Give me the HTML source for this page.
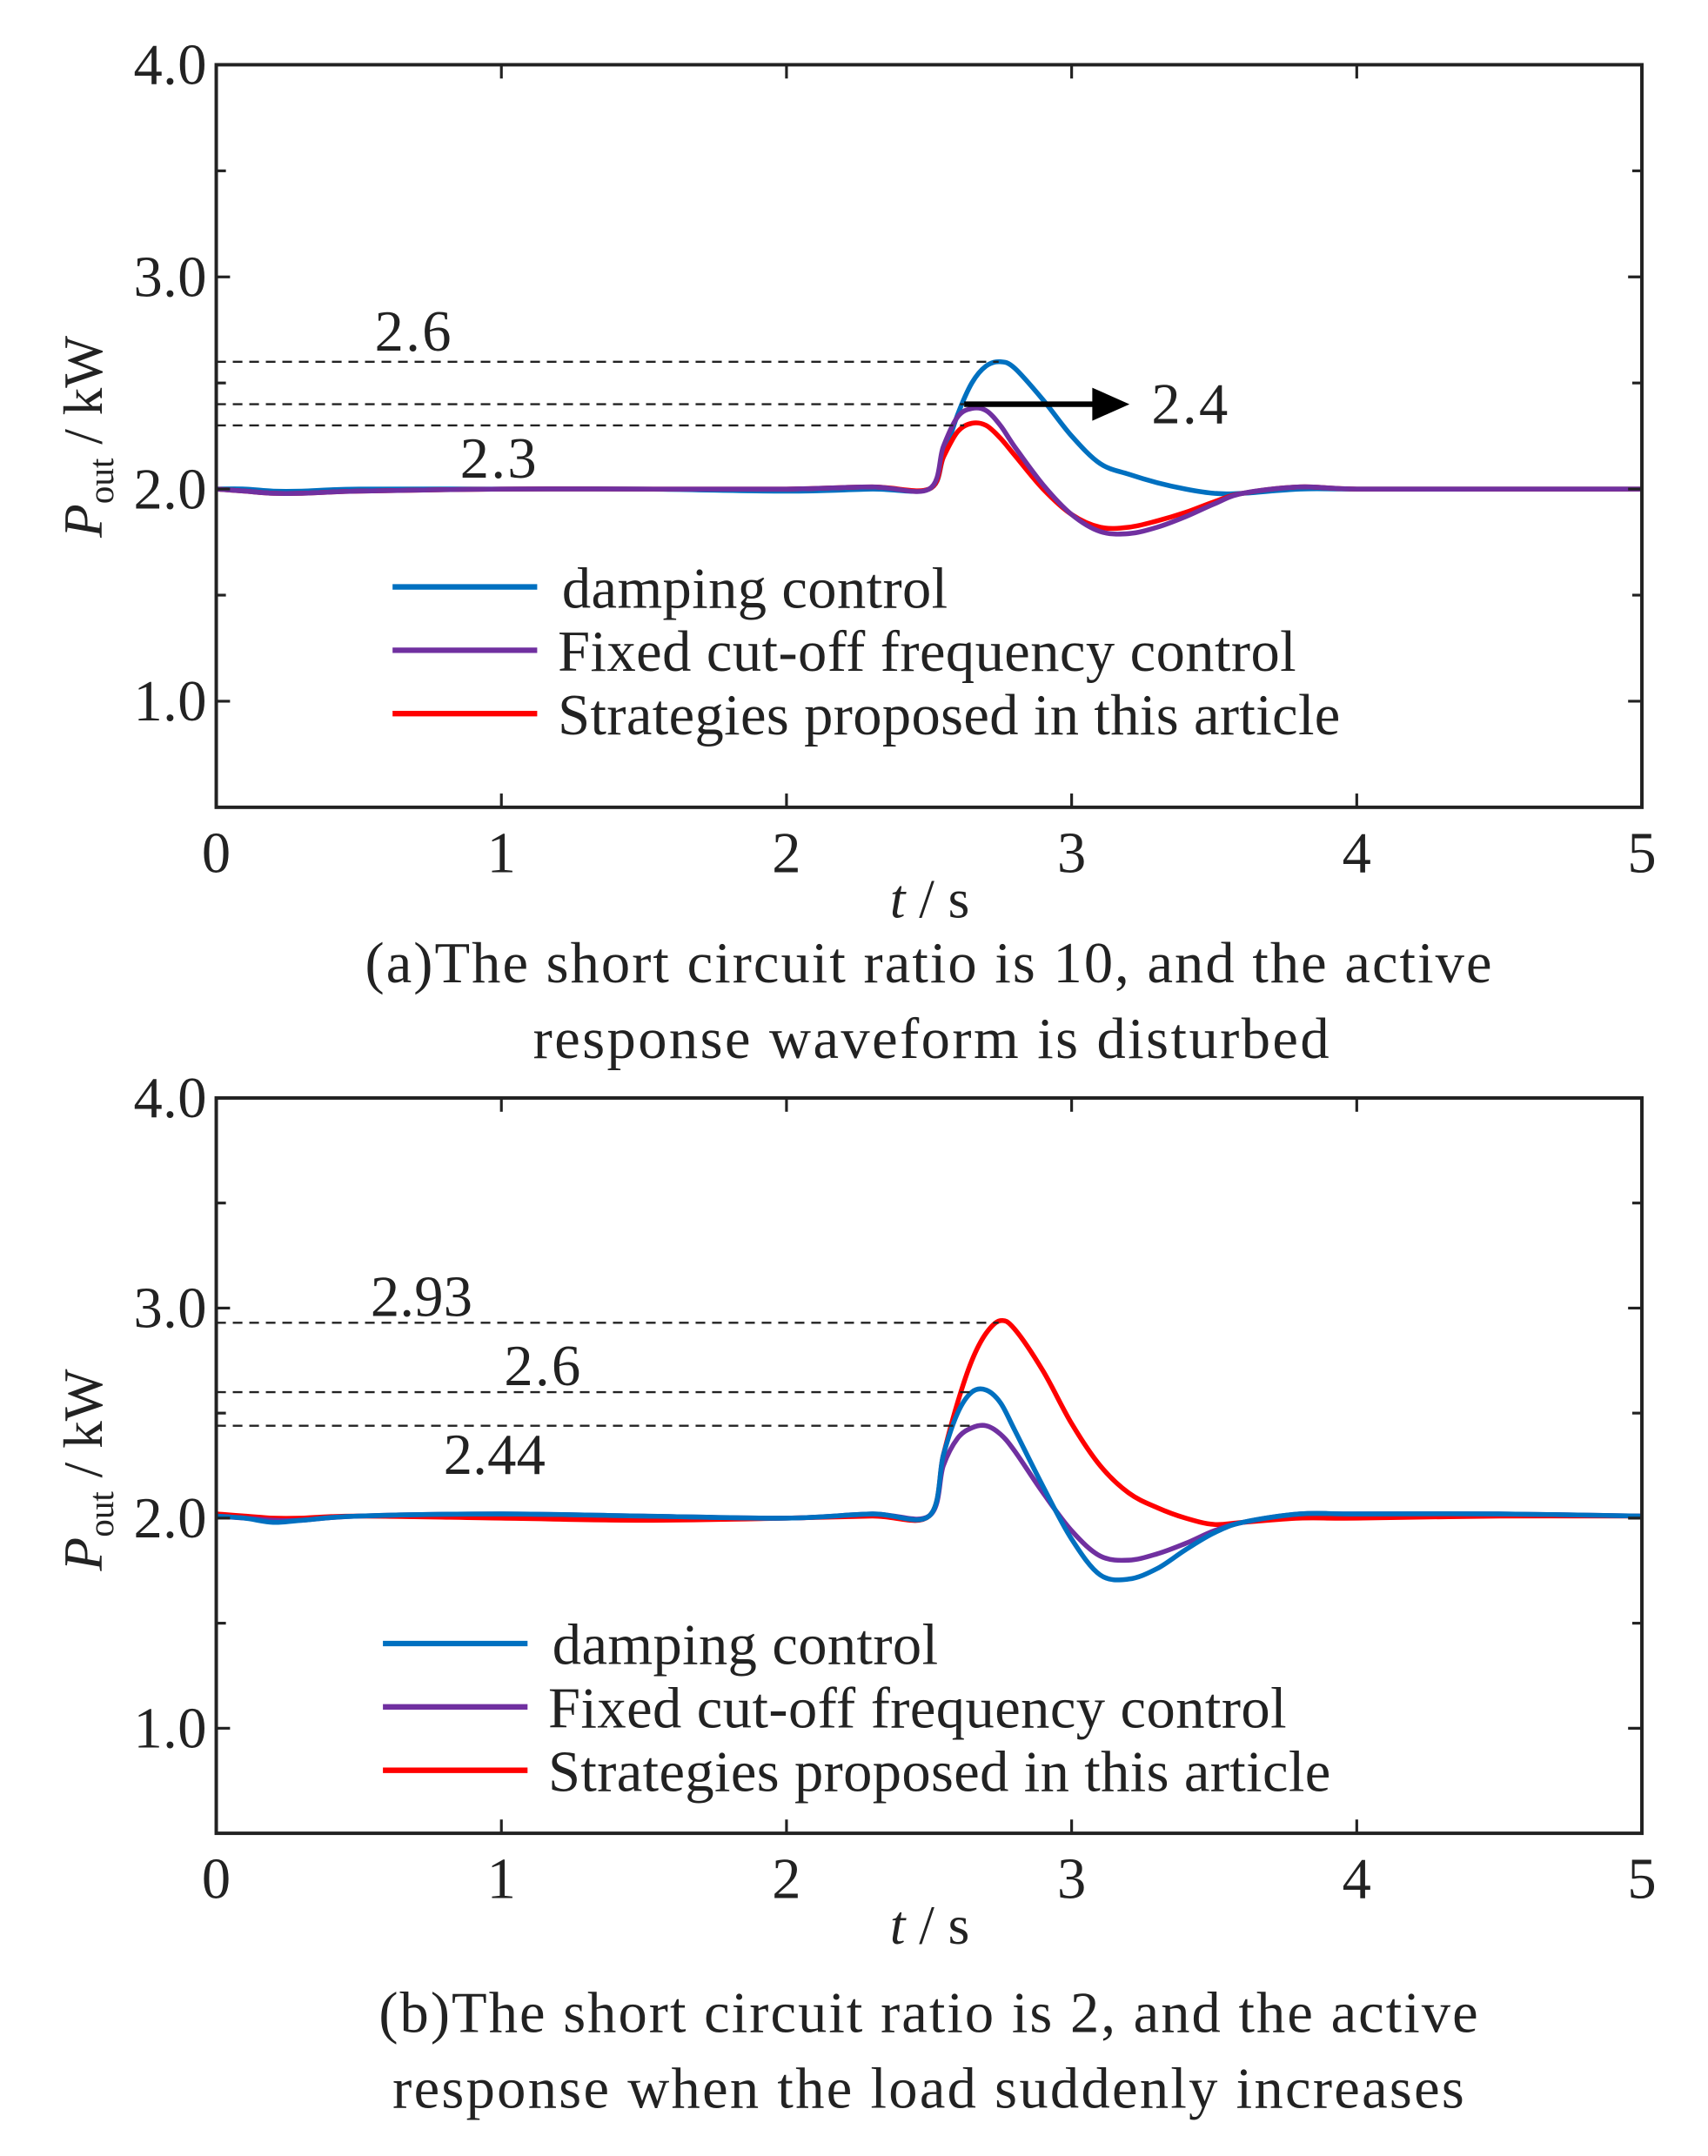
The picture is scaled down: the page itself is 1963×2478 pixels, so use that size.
<!DOCTYPE html>
<html><head><meta charset="utf-8"><style>
html,body{margin:0;padding:0;background:#fff}
svg{display:block}
text{font-family:"Liberation Serif",serif;fill:#222}
</style></head><body>
<svg id="fig" width="1963" height="2478" viewBox="0 0 1240 1565" preserveAspectRatio="none" xmlns="http://www.w3.org/2000/svg"></svg>
<script>
const times=[0,0.1,0.2,0.3,0.5,1.0,1.5,2.0,2.3,2.5,2.55,2.6,2.65,2.7,2.75,2.8,2.9,3.0,3.1,3.2,3.3,3.4,3.5,3.6,3.8,4.0,4.5,5.0];
const aDamping=[2.0,2.0,1.99,1.99,2.0,2.0,2.0,1.99,2.0,2.0,2.15,2.35,2.5,2.58,2.6,2.57,2.42,2.25,2.12,2.07,2.03,2.0,1.98,1.98,2.0,2.0,2.0,2.0];
const aFixed=[2.0,1.99,1.98,1.98,1.99,2.0,2.0,2.0,2.01,2.0,2.2,2.34,2.38,2.37,2.3,2.2,2.02,1.88,1.8,1.79,1.82,1.87,1.93,1.98,2.01,2.0,2.0,2.0];
const aProposed=[2.0,1.99,1.98,1.98,1.99,2.0,2.0,2.0,2.01,2.0,2.15,2.27,2.31,2.3,2.24,2.16,2.0,1.88,1.82,1.82,1.85,1.89,1.94,1.98,2.01,2.0,2.0,2.0];
const bDamping=[2.01,2.0,1.98,1.99,2.01,2.02,2.01,2.0,2.02,2.01,2.3,2.5,2.6,2.61,2.55,2.42,2.15,1.9,1.73,1.71,1.76,1.85,1.93,1.98,2.02,2.02,2.02,2.01];
const bFixed=[2.01,2.0,1.99,1.99,2.01,2.02,2.01,2.0,2.02,2.01,2.25,2.38,2.43,2.44,2.4,2.32,2.12,1.94,1.82,1.8,1.83,1.88,1.94,1.98,2.02,2.02,2.02,2.01];
const bProposed=[2.02,2.01,2.0,2.0,2.01,2.0,1.99,2.0,2.01,2.01,2.3,2.55,2.75,2.88,2.94,2.9,2.7,2.45,2.25,2.12,2.05,2.0,1.97,1.98,2.0,2.0,2.01,2.01];
const yTicks=[1.0,2.0,3.0,4.0];
const yTickLabels=["1.0","2.0","3.0","4.0"];
const xTicks=[0,1,2,3,4,5];
const aRefs=[2.6,2.4,2.3];
const aRefLabels=["2.6","2.4","2.3"];
const bRefs=[2.93,2.6,2.44];
const bRefLabels=["2.93","2.6","2.44"];

const NS="http://www.w3.org/2000/svg";
const svg=document.getElementById('fig');
function el(tag,attrs,parent){const e=document.createElementNS(NS,tag);for(const k in attrs)e.setAttribute(k,attrs[k]);(parent||svg).appendChild(e);return e;}
function txt(s,x,y,size,parent,anchor,len){const a={x:x,y:y,'font-size':size,'text-anchor':anchor||'start'};if(len){a.textLength=len;a.lengthAdjust='spacing';}const t=el('text',a,parent);t.textContent=s;return t;}
const colors={damping:'#0070c0',fixed:'#7030a0',proposed:'#ff0000'};

function panel(P){
  const g=el('g',{});
  
  
  const X=t=>157+t*207;
  const Y=v=>P.top+(4-v)*P.unit;
  const bottom=Y(0.5);
  P.series.forEach(s=>{
    const pts=times.map((t,i)=>[X(t),Y(s.v[i])]);
    let d='M'+pts[0][0]+','+pts[0][1];
    for(let i=0;i<pts.length-1;i++){
      const p0=pts[Math.max(i-1,0)],p1=pts[i],p2=pts[i+1],p3=pts[Math.min(i+2,pts.length-1)];
      d+=' C'+(p1[0]+(p2[0]-p0[0])/6)+','+(p1[1]+(p2[1]-p0[1])/6)+' '+(p2[0]-(p3[0]-p1[0])/6)+','+(p2[1]-(p3[1]-p1[1])/6)+' '+p2[0]+','+p2[1];
    }
    const p=el('path',{d:d,fill:'none',stroke:colors[s.key],'stroke-width':3.5},g);
    
    
  });
  P.refs.forEach((r,i)=>{
    const l=el('line',{x1:157,x2:P.refEnd[i],y1:Y(r),y2:Y(r),stroke:'#222','stroke-width':1.5,'stroke-dasharray':'7,5'},g);
    
    
    const t=txt(P.refLabels[i],P.labelPos[i][0],Y(r)+P.labelPos[i][1],42,g,'start',P.refLabels[i].length*18.5);
    
    
  });
  if(P.arrow){
    const y=Y(2.4);
    const a=el('path',{d:`M700,${y} L795,${y}`,stroke:'#000','stroke-width':4},g);
    
    
    const h=el('polygon',{points:`793,${y-12} 820,${y} 793,${y+12}`,fill:'#000'},g);
    
    
  }
  const f=el('rect',{x:157,y:P.top,width:1035,height:bottom-P.top,fill:'none',stroke:'#222','stroke-width':2.5},g);
  
  
  yTicks.forEach((v,i)=>{
    el('line',{x1:157,x2:167,y1:Y(v),y2:Y(v),stroke:'#222','stroke-width':2},g);
    el('line',{x1:1182,x2:1192,y1:Y(v),y2:Y(v),stroke:'#222','stroke-width':2},g);
    el('line',{x1:157,x2:164,y1:Y(v-0.5),y2:Y(v-0.5),stroke:'#222','stroke-width':2},g);
    el('line',{x1:1185,x2:1192,y1:Y(v-0.5),y2:Y(v-0.5),stroke:'#222','stroke-width':2},g);
    const t=txt(yTickLabels[i],150,Y(v)+14,42,g,'end',53);
    
    
  });
  xTicks.forEach(v=>{
    el('line',{x1:X(v),x2:X(v),y1:bottom,y2:bottom-10,stroke:'#222','stroke-width':2},g);
    el('line',{x1:X(v),x2:X(v),y1:P.top,y2:P.top+10,stroke:'#222','stroke-width':2},g);
    const t=txt(String(v),X(v),bottom+47,42,g,'middle');
    
    
  });
  const xt=el('text',{x:675,y:bottom+80,'font-size':40,'text-anchor':'middle'},g);
  xt.innerHTML='<tspan font-style="italic">t</tspan> / s';
  
  
  const cy=P.top+270;
  const yt=el('text',{x:0,y:0,'font-size':40,'text-anchor':'middle',transform:`translate(74,${cy}) rotate(-90)`},g);
  yt.innerHTML='<tspan font-style="italic">P</tspan><tspan font-size="26" dy="8">out</tspan><tspan dy="-8"> / kW</tspan>';
  
  
  const lg=el('g',{},g);
  
  
  const names=[['damping','damping control',280],['fixed','Fixed cut-off frequency control',536],['proposed','Strategies proposed in this article',568]];
  names.forEach((n,i)=>{
    const y=P.legY+i*46;
    el('line',{x1:P.legX,x2:P.legX+105,y1:y,y2:y,stroke:colors[n[0]],'stroke-width':4},lg);
    const t=txt(n[1],P.legX+(i==0?123:120),y+15,42,lg,'start',n[2]);
    
    
  });
  P.caption.forEach((c,i)=>{
    const t=txt(c,P.capX[i],P.capY+i*55,42,g,'start',P.capW[i]);
    
    
  });
}
panel({name:'panel-a',top:47,unit:154,
  series:[{key:'damping',v:aDamping},{key:'proposed',v:aProposed},{key:'fixed',v:aFixed}],
  refs:aRefs,refLabels:aRefLabels,refEnd:[725,700,700],labelPos:[[272,-8],[836,14],[334,38]],arrow:true,
  legX:285,legY:426,caption:['(a)The short circuit ratio is 10, and the active','response waveform is disturbed'],capX:[265,387],capW:[818,578],capY:713});
panel({name:'panel-b',top:797,unit:152.5,
  series:[{key:'proposed',v:bProposed},{key:'fixed',v:bFixed},{key:'damping',v:bDamping}],
  refs:bRefs,refLabels:bRefLabels,refEnd:[725,705,705],labelPos:[[269,-5],[366,-5],[322,35]],arrow:false,
  legX:278,legY:1193,caption:['(b)The short circuit ratio is 2, and the active','response when the load suddenly increases'],capX:[275,285],capW:[798,778],capY:1475});
</script>
</body></html>
